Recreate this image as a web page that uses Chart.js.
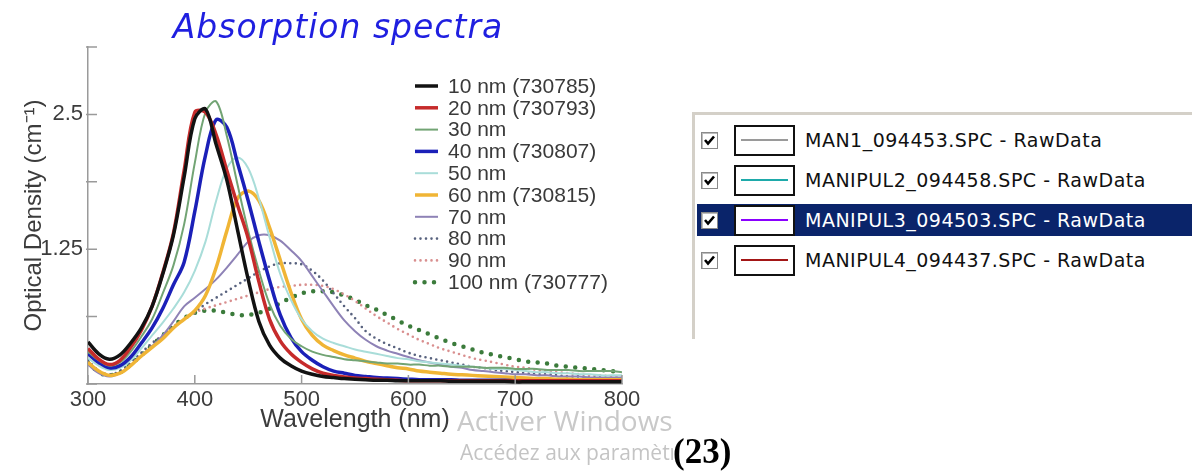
<!DOCTYPE html>
<html>
<head>
<meta charset="utf-8">
<script src="https://cdn.jsdelivr.net/npm/chart.js@4.4.1/dist/chart.umd.min.js"></script>
<style>
  body { margin: 0; width: 1192px; height: 473px; overflow: hidden; background: #fff; position: relative; }
  #chartBox { position: absolute; left: 0; top: 0; width: 660px; height: 473px; }
  #panel { position: absolute; left: 692px; top: 112px; width: 500px; height: 224px;
           border-left: 3px solid #d4d0c8; border-top: 3px solid #d4d0c8; background: #fff; }
  .row { position: absolute; left: 0; width: 497px; height: 40px; }
  .row.sel .bg { position: absolute; left: 2px; right: 0; top: 4px; height: 32px; background: #0a246a; }
  .chk { position: absolute; left: 6px; top: 12px; width: 15px; height: 15px; border: 1px solid #8a8a8a;
         background: #fff; box-shadow: inset 1px 1px 0 #bdbdbd; }
  .chk svg { position: absolute; left: 1px; top: 1px; }
  .swatch { position: absolute; left: 39px; top: 5px; width: 57px; height: 27px; border: 2px solid #111; background: #fff; }
  .swatch i { position: absolute; left: 5px; right: 5px; top: 12px; height: 2px; }
  .name { position: absolute; left: 110px; top: 0; font: 19px "DejaVu Sans", sans-serif; line-height: 40px;
          letter-spacing: 0.5px; color: #111; white-space: nowrap; }
  .row.sel .name { color: #fff; }
  #wm1 { position: absolute; left: 457px; top: 401px; font: 28px "Open Sans", sans-serif; color: #c9c9c9; white-space: nowrap; }
  #wm2 { position: absolute; left: 460px; top: 438px; width: 213px; overflow: hidden; font: 21px "Open Sans", sans-serif;
         color: #c4c4c4; white-space: nowrap; }
  #ref { position: absolute; left: 673px; top: 432px; font: bold 35px "Liberation Serif", serif; color: #000; background: #fff; }
</style>
</head>
<body>
<div id="chartBox"><canvas id="spectra" width="660" height="473"></canvas></div>

<div id="panel"></div>
<div id="wm1">Activer Windows</div>
<div id="wm2">Accédez aux paramètres</div>
<div id="ref">(23)</div>

<script>
// wavelength grid (nm)
const wavelengths = [300,310,320,330,340,350,360,370,380,390,
                     400,410,420,430,440,450,460,470,480,490,
                     500,510,520,530,540,550,560,570,580,590,
                     600,610,620,630,640,650,660,670,680,690,
                     700,710,720,730,740,750,760,770,780,790,800];

// optical density, one array per particle size
const od10 = [0.39,0.28,0.23,0.27,0.38,0.52,0.72,1.02,1.38,1.92,
              2.46,2.55,2.22,1.89,1.43,0.97,0.58,0.36,0.24,0.17,
              0.12,0.09,0.07,0.06,0.05,0.045,0.04,0.035,0.035,0.03,
              0.03,0.03,0.03,0.03,0.025,0.025,0.025,0.025,0.025,0.025,
              0.02,0.02,0.02,0.02,0.02,0.02,0.02,0.02,0.02,0.02,0.02];
const od20 = [0.33,0.23,0.18,0.22,0.34,0.50,0.72,1.03,1.40,1.98,
              2.52,2.52,2.31,1.98,1.66,1.35,0.95,0.60,0.40,0.28,
              0.20,0.14,0.10,0.08,0.065,0.055,0.05,0.045,0.04,0.035,
              0.03,0.03,0.03,0.03,0.03,0.03,0.03,0.03,0.03,0.03,
              0.03,0.03,0.03,0.03,0.03,0.03,0.03,0.03,0.03,0.03,0.03];
const od30 = [0.30,0.22,0.17,0.20,0.30,0.44,0.60,0.84,1.10,1.48,
              2.05,2.52,2.62,2.30,1.85,1.42,1.05,0.74,0.54,0.42,
              0.35,0.30,0.27,0.25,0.23,0.22,0.21,0.20,0.19,0.19,
              0.18,0.18,0.17,0.17,0.16,0.16,0.16,0.15,0.15,0.15,
              0.14,0.14,0.14,0.13,0.13,0.13,0.12,0.12,0.12,0.12,0.11];
const od40 = [0.28,0.20,0.15,0.17,0.25,0.38,0.52,0.70,0.92,1.13,
              1.60,2.12,2.45,2.38,2.05,1.70,1.32,0.96,0.64,0.43,
              0.30,0.22,0.16,0.12,0.10,0.08,0.07,0.06,0.055,0.05,
              0.045,0.04,0.04,0.04,0.04,0.035,0.035,0.035,0.035,0.035,
              0.03,0.03,0.03,0.03,0.03,0.03,0.03,0.03,0.03,0.03,0.03];
const od50 = [0.24,0.17,0.13,0.15,0.22,0.33,0.45,0.57,0.70,0.85,
              1.05,1.32,1.70,2.00,2.10,2.00,1.72,1.36,1.02,0.78,
              0.60,0.49,0.42,0.38,0.35,0.32,0.30,0.28,0.26,0.24,
              0.23,0.21,0.20,0.19,0.18,0.17,0.16,0.15,0.14,0.14,
              0.13,0.12,0.11,0.11,0.10,0.10,0.09,0.09,0.08,0.08,0.08];
const od60 = [0.20,0.12,0.08,0.10,0.17,0.26,0.34,0.42,0.52,0.60,
              0.68,0.82,1.08,1.42,1.72,1.79,1.70,1.45,1.15,0.85,
              0.60,0.45,0.36,0.31,0.27,0.24,0.21,0.19,0.17,0.15,
              0.14,0.12,0.11,0.10,0.09,0.085,0.08,0.075,0.07,0.065,
              0.06,0.055,0.05,0.05,0.045,0.045,0.04,0.04,0.04,0.04,0.04];
const od70 = [0.18,0.10,0.07,0.10,0.17,0.26,0.35,0.45,0.58,0.72,
              0.80,0.88,0.97,1.08,1.20,1.32,1.38,1.38,1.33,1.24,
              1.14,1.00,0.86,0.72,0.59,0.49,0.41,0.35,0.31,0.28,
              0.25,0.22,0.20,0.18,0.16,0.15,0.13,0.12,0.11,0.10,
              0.09,0.09,0.08,0.08,0.07,0.07,0.07,0.06,0.06,0.06,0.06];
const od80 = [0.22,0.12,0.09,0.12,0.20,0.29,0.38,0.45,0.53,0.60,
              0.67,0.74,0.80,0.86,0.92,0.98,1.04,1.09,1.12,1.12,
              1.11,1.05,0.96,0.84,0.72,0.61,0.49,0.42,0.37,0.33,
              0.29,0.26,0.24,0.22,0.20,0.18,0.16,0.15,0.13,0.12,
              0.11,0.10,0.09,0.09,0.08,0.07,0.07,0.06,0.06,0.05,0.05];
const od90 = [0.20,0.11,0.08,0.11,0.19,0.28,0.37,0.45,0.53,0.60,
              0.66,0.70,0.73,0.76,0.79,0.82,0.85,0.88,0.90,0.91,
              0.92,0.92,0.91,0.88,0.83,0.77,0.70,0.63,0.57,0.51,
              0.46,0.41,0.37,0.33,0.30,0.27,0.24,0.22,0.20,0.18,
              0.16,0.15,0.13,0.12,0.11,0.10,0.09,0.08,0.08,0.07,0.07];
const od100 = [0.20,0.11,0.08,0.11,0.18,0.27,0.36,0.45,0.54,0.61,
               0.66,0.68,0.68,0.66,0.64,0.64,0.66,0.70,0.75,0.80,
               0.84,0.86,0.86,0.85,0.82,0.78,0.73,0.69,0.64,0.59,
               0.54,0.50,0.46,0.42,0.38,0.35,0.32,0.29,0.27,0.25,
               0.23,0.21,0.20,0.19,0.17,0.16,0.15,0.14,0.13,0.12,0.11];

const seriesLabels = ['10 nm (730785)', '20 nm (730793)', '30 nm', '40 nm (730807)', '50 nm',
                      '60 nm (730815)', '70 nm', '80 nm', '90 nm', '100 nm (730777)'];
const seriesValues = [od10, od20, od30, od40, od50, od60, od70, od80, od90, od100];

// axis ticks
const xTicks = [300, 400, 500, 600, 700, 800];
const yTickStep = 0.625;
const yLabelled = [1.25, 2.5];

// spectra listed in the acquisition software
const fileNames = ['MAN1_094453.SPC - RawData', 'MANIPUL2_094458.SPC - RawData',
                   'MANIPUL3_094503.SPC - RawData', 'MANIPUL4_094437.SPC - RawData'];

// line styles, same order as the series
const styles = [
  { color: '#121212', width: 3.5 },
  { color: '#c62b2b', width: 3.5 },
  { color: '#72a474', width: 2 },
  { color: '#1b20b8', width: 3.5 },
  { color: '#a9ddd9', width: 2 },
  { color: '#f0b535', width: 3.5 },
  { color: '#8e82b6', width: 2 },
  { color: '#58627e', width: 2.6, dash: [0, 5.5] },
  { color: '#d98f8f', width: 2.6, dash: [0, 5.5] },
  { color: '#3b7b3b', width: 4.5, dash: [0, 9.5] }
];
const swatchColors = ['#9a9a9a', '#1eaaaa', '#8a00ff', '#a31616'];

const datasets = seriesValues.map((vals, i) => ({
  label: seriesLabels[i],
  data: vals.map((v, k) => ({ x: wavelengths[k], y: v })),
  borderColor: styles[i].color,
  borderWidth: styles[i].width,
  borderDash: styles[i].dash || [],
  borderCapStyle: styles[i].dash ? 'round' : 'butt',
  pointRadius: 0,
  tension: 0.35,
  fill: false
}));

const extras = {
  id: 'extras',
  afterDraw(chart) {
    const ctx = chart.ctx;
    const xs = chart.scales.x, ys = chart.scales.y;
    const area = chart.chartArea;
    ctx.save();

    // inward tick marks
    ctx.strokeStyle = '#9a9a9a';
    ctx.lineWidth = 1.5;
    ctx.beginPath();
    xs.ticks.forEach(t => {
      const px = xs.getPixelForValue(t.value);
      ctx.moveTo(px, area.bottom);
      ctx.lineTo(px, area.bottom - 9);
    });
    ys.ticks.forEach(t => {
      const py = ys.getPixelForValue(t.value);
      ctx.moveTo(area.left - 2, py);
      ctx.lineTo(area.left + 9, py);
    });
    ctx.stroke();

    // title
    ctx.fillStyle = '#1f1fe0';
    ctx.font = 'italic 33px "DejaVu Sans", sans-serif';
    ctx.letterSpacing = '1px';
    ctx.textAlign = 'center';
    ctx.textBaseline = 'alphabetic';
    ctx.fillText('Absorption spectra', 338, 38);
    ctx.letterSpacing = '0px';

    // legend inside the plot
    ctx.font = '21px "Liberation Sans", Arial, sans-serif';
    ctx.textAlign = 'left';
    ctx.textBaseline = 'middle';
    chart.data.datasets.forEach((ds, i) => {
      const y = 86 + i * 21.8;
      ctx.strokeStyle = ds.borderColor;
      ctx.lineWidth = ds.borderWidth;
      ctx.lineCap = ds.borderCapStyle;
      ctx.setLineDash(ds.borderDash);
      ctx.beginPath();
      ctx.moveTo(415, y);
      ctx.lineTo(438, y);
      ctx.stroke();
      ctx.setLineDash([]);
      ctx.fillStyle = '#3a3a3a';
      ctx.fillText(ds.label, 448, y + 1);
    });
    ctx.restore();
  }
};

new Chart(document.getElementById('spectra'), {
  type: 'line',
  data: { datasets },
  plugins: [extras],
  options: {
    responsive: false,
    animation: false,
    layout: { padding: { top: 47, right: 38, left: 0, bottom: 0 } },
    plugins: { legend: { display: false }, tooltip: { enabled: false } },
    scales: {
      x: {
        type: 'linear',
        min: 300, max: 800,
        afterFit: s => { s.height = 89; },
        afterBuildTicks: s => { s.ticks = xTicks.map(v => ({ value: v })); },
        grid: { display: false, drawTicks: false },
        border: { display: true, color: '#9a9a9a', width: 1.5 },
        ticks: { padding: 3, color: '#3c3c3c', font: { family: '"Liberation Sans", Arial, sans-serif', size: 22 } },
        title: { display: true, text: 'Wavelength (nm)', color: '#3c3c3c',
                 padding: { top: 0, bottom: 38 },
                 font: { family: '"Liberation Sans", Arial, sans-serif', size: 25 } }
      },
      y: {
        min: 0, max: 3.125,
        afterFit: s => { s.width = 88; },
        grid: { display: false, drawTicks: false },
        border: { display: true, color: '#9a9a9a', width: 1.5 },
        ticks: {
          stepSize: yTickStep, padding: 5, color: '#3c3c3c',
          font: { family: '"Liberation Sans", Arial, sans-serif', size: 22 },
          callback: v => yLabelled.includes(v) ? String(v) : ''
        },
        title: { display: true, text: 'Optical Density (cm\u207B\u00B9)', color: '#3c3c3c',
                 padding: { top: 20, bottom: 0 },
                 font: { family: '"Liberation Sans", Arial, sans-serif', size: 24 } }
      }
    }
  }
});

// list panel on the right
const panel = document.getElementById('panel');
fileNames.forEach((name, i) => {
  const row = document.createElement('div');
  row.className = 'row' + (i === 2 ? ' sel' : '');
  row.style.top = (5 + i * 40) + 'px';
  row.innerHTML =
    '<div class="bg"></div>' +
    '<div class="chk"><svg width="13" height="13" viewBox="0 0 13 13"><polyline points="2,6 5,9.5 11,2.5" fill="none" stroke="#000" stroke-width="2.6"/></svg></div>' +
    '<div class="swatch"><i style="background:' + swatchColors[i] + '"></i></div>' +
    '<div class="name">' + name + '</div>';
  panel.appendChild(row);
});
</script>
</body>
</html>
